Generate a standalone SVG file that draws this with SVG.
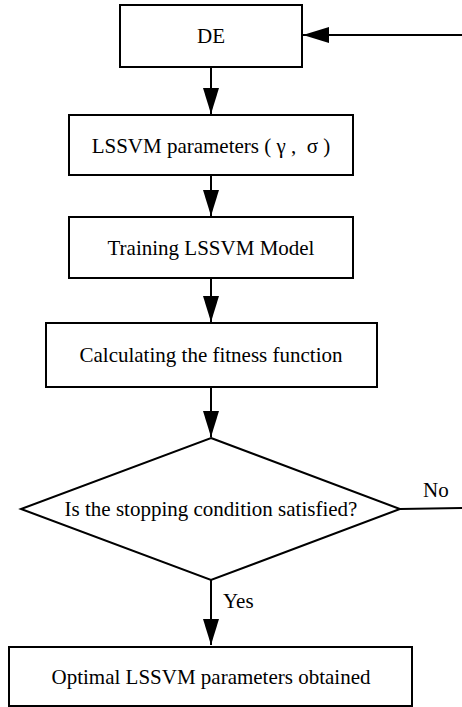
<svg xmlns="http://www.w3.org/2000/svg" width="462" height="707" viewBox="0 0 462 707">
<style>
.box{fill:#fff;stroke:#000;stroke-width:2}
.c{fill:none;stroke:#000;stroke-width:2}
</style>
<defs>
<marker id="ah" viewBox="0 0 26 16" refX="26" refY="8" markerWidth="26" markerHeight="16" markerUnits="userSpaceOnUse" orient="auto">
<path d="M0,0 L26,8 L0,16 Z" fill="#000"/>
</marker>
</defs>
<rect width="462" height="707" fill="#fff"/>
<g font-family="Liberation Serif, Tinos, Times New Roman, DejaVu Serif, serif" font-size="21" fill="#000">
<g id="connectors">
<line class="c" x1="211" y1="67" x2="211" y2="114" marker-end="url(#ah)"/>
<line class="c" x1="211" y1="175" x2="211" y2="216" marker-end="url(#ah)"/>
<line class="c" x1="211" y1="278" x2="211" y2="322" marker-end="url(#ah)"/>
<line class="c" x1="211" y1="387" x2="211" y2="437" marker-end="url(#ah)"/>
<line class="c" x1="211" y1="580" x2="211" y2="645" marker-end="url(#ah)"/>
<line class="c" x1="400" y1="509" x2="462" y2="508"/>
<line class="c" x1="462" y1="35" x2="303" y2="35" marker-end="url(#ah)"/>
<text x="423" y="497">No</text>
<text x="223" y="608">Yes</text>
</g>
<g id="de">
<rect class="box" x="120" y="5" width="182" height="62"/>
<text x="211" y="43" text-anchor="middle">DE</text>
</g>
<g id="params">
<rect class="box" x="69" y="115" width="284" height="60"/>
<text x="211" y="153" text-anchor="middle" xml:space="preserve">LSSVM parameters ( γ ,  σ )</text>
</g>
<g id="training">
<rect class="box" x="69" y="217" width="284" height="61"/>
<text x="211" y="255" text-anchor="middle">Training LSSVM Model</text>
</g>
<g id="fitness">
<rect class="box" x="46" y="323" width="331" height="64"/>
<text x="211" y="362" text-anchor="middle">Calculating the fitness function</text>
</g>
<g id="decision">
<polygon class="box" points="211,438 400,509 211,580 21,509"/>
<text x="211" y="516" text-anchor="middle">Is the stopping condition satisfied?</text>
</g>
<g id="optimal">
<rect class="box" x="9" y="647" width="403" height="59"/>
<text x="211" y="684" text-anchor="middle">Optimal LSSVM parameters obtained</text>
</g>
</g>
</svg>
